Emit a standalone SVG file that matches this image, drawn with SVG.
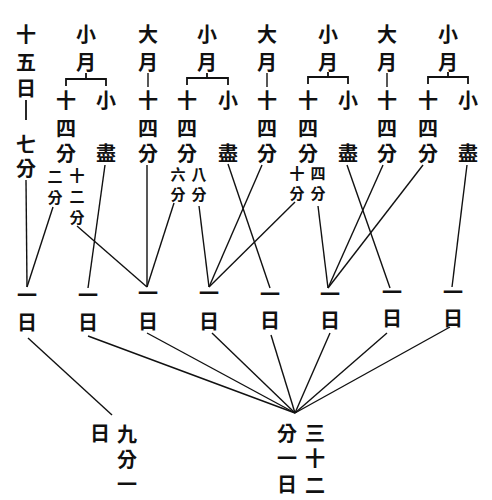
<svg xmlns="http://www.w3.org/2000/svg" width="492" height="500" viewBox="0 0 492 500">
<style>
text{font-family:"Noto Sans CJK TC","Noto Sans CJK SC",sans-serif;font-weight:bold;text-anchor:middle;dominant-baseline:central;fill:#111}
.t{font-size:20px}
.s{font-size:15px}
.c{stroke:#111;stroke-width:1.4;fill:none}
.b{stroke:#111;stroke-width:1.8;fill:none}
</style>
<rect width="492" height="500" fill="#fff"/>
<g id="col1">
<text class="t" x="26" y="33">十</text><text class="t" x="26" y="61">五</text><text class="t" x="26" y="87">日</text>
<line class="b" x1="26" y1="100" x2="26" y2="120"/>
<text class="t" x="26" y="143">七</text><text class="t" x="26" y="167">分</text>
</g>
<g id="col2">
<text class="t" x="86" y="33">小</text><text class="t" x="86" y="61">月</text>
<path class="b" d="M66,86 V79 H106 V86 M86,79 V73"/>
<text class="t" x="66" y="99">十</text><text class="t" x="66" y="127">四</text><text class="t" x="66" y="152">分</text>
<text class="t" x="106" y="99">小</text><text class="t" x="106" y="152">盡</text>
<text class="s" x="55" y="175">二</text><text class="s" x="55" y="196">分</text>
<text class="s" x="77" y="174">十</text><text class="s" x="77" y="195">二</text><text class="s" x="77" y="216">分</text>
</g>
<g id="col3">
<text class="t" x="148" y="33">大</text><text class="t" x="148" y="61">月</text>
<line class="c" x1="148" y1="73" x2="148" y2="87"/>
<text class="t" x="148" y="99">十</text><text class="t" x="148" y="127">四</text><text class="t" x="148" y="152">分</text>
</g>
<g id="col4">
<text class="t" x="207" y="33">小</text><text class="t" x="207" y="61">月</text>
<path class="b" d="M187,85 V78 H228 V85 M207,78 V73"/>
<text class="t" x="187" y="99">十</text><text class="t" x="187" y="127">四</text><text class="t" x="187" y="152">分</text>
<text class="t" x="228" y="99">小</text><text class="t" x="228" y="152">盡</text>
<text class="s" x="178" y="173">六</text><text class="s" x="178" y="193">分</text>
<text class="s" x="199" y="173">八</text><text class="s" x="199" y="193">分</text>
</g>
<g id="col5">
<text class="t" x="267" y="33">大</text><text class="t" x="267" y="61">月</text>
<line class="c" x1="267" y1="73" x2="267" y2="87"/>
<text class="t" x="267" y="99">十</text><text class="t" x="267" y="127">四</text><text class="t" x="267" y="152">分</text>
</g>
<g id="col6">
<text class="t" x="328" y="33">小</text><text class="t" x="328" y="61">月</text>
<path class="b" d="M308,84 V77 H348 V84 M328,77 V72"/>
<text class="t" x="308" y="99">十</text><text class="t" x="308" y="127">四</text><text class="t" x="308" y="152">分</text>
<text class="t" x="348" y="99">小</text><text class="t" x="348" y="152">盡</text>
<text class="s" x="297" y="172">十</text><text class="s" x="297" y="192">分</text>
<text class="s" x="318" y="172">四</text><text class="s" x="318" y="192">分</text>
</g>
<g id="col7">
<text class="t" x="387" y="33">大</text><text class="t" x="387" y="61">月</text>
<line class="c" x1="387" y1="73" x2="387" y2="87"/>
<text class="t" x="387" y="99">十</text><text class="t" x="387" y="127">四</text><text class="t" x="387" y="152">分</text>
</g>
<g id="col8">
<text class="t" x="448" y="33">小</text><text class="t" x="448" y="61">月</text>
<path class="b" d="M428,84 V77 H468 V84 M448,77 V72"/>
<text class="t" x="428" y="99">十</text><text class="t" x="428" y="127">四</text><text class="t" x="428" y="152">分</text>
<text class="t" x="468" y="99">小</text><text class="t" x="468" y="152">盡</text>
</g>
<g id="days">
<g id="d1"><text class="t" x="27" y="294">一</text><text class="t" x="27" y="321">日</text></g>
<g id="d2"><text class="t" x="88" y="294">一</text><text class="t" x="88" y="321">日</text></g>
<g id="d3"><text class="t" x="148" y="292">一</text><text class="t" x="148" y="320">日</text></g>
<g id="d4"><text class="t" x="209" y="292">一</text><text class="t" x="209" y="320">日</text></g>
<g id="d5"><text class="t" x="270" y="293">一</text><text class="t" x="270" y="319">日</text></g>
<g id="d6"><text class="t" x="330" y="293">一</text><text class="t" x="330" y="319">日</text></g>
<g id="d7"><text class="t" x="392" y="291">一</text><text class="t" x="392" y="317">日</text></g>
<g id="d8"><text class="t" x="453" y="291">一</text><text class="t" x="453" y="317">日</text></g>
</g>
<g id="result1">
<text class="t" x="100" y="432">日</text>
<text class="t" x="127" y="433">九</text><text class="t" x="127" y="458">分</text><text class="t" x="127" y="483">一</text>
</g>
<g id="result2">
<text class="t" x="287" y="432">分</text><text class="t" x="287" y="457">一</text><text class="t" x="287" y="483">日</text>
<text class="t" x="315" y="432">三</text><text class="t" x="315" y="457">十</text><text class="t" x="315" y="484">二</text>
</g>
<g id="connectors">
<line class="c" x1="26" y1="180" x2="27" y2="287"/>
<line class="c" x1="53" y1="207" x2="27" y2="287"/>
<line class="c" x1="105" y1="165" x2="88" y2="288"/>
<line class="c" x1="77" y1="226" x2="147" y2="287"/>
<line class="c" x1="147" y1="165" x2="147" y2="287"/>
<line class="c" x1="174" y1="203" x2="147" y2="287"/>
<line class="c" x1="199" y1="206" x2="209" y2="287"/>
<line class="c" x1="262" y1="165" x2="209" y2="287"/>
<line class="c" x1="295" y1="202" x2="209" y2="287"/>
<line class="c" x1="228" y1="164" x2="270" y2="288"/>
<line class="c" x1="318" y1="206" x2="328" y2="288"/>
<line class="c" x1="383" y1="165" x2="328" y2="288"/>
<line class="c" x1="423" y1="165" x2="328" y2="288"/>
<line class="c" x1="347" y1="165" x2="390" y2="288"/>
<line class="c" x1="467" y1="165" x2="452" y2="287"/>
<line class="c" x1="28" y1="338" x2="112" y2="415"/>
<line class="c" x1="88" y1="336" x2="295" y2="413"/>
<line class="c" x1="147" y1="333" x2="295" y2="413"/>
<line class="c" x1="212" y1="333" x2="295" y2="413"/>
<line class="c" x1="271" y1="335" x2="295" y2="413"/>
<line class="c" x1="330" y1="333" x2="295" y2="413"/>
<line class="c" x1="387" y1="333" x2="295" y2="413"/>
<line class="c" x1="450" y1="327" x2="295" y2="413"/>
</g>
</svg>
